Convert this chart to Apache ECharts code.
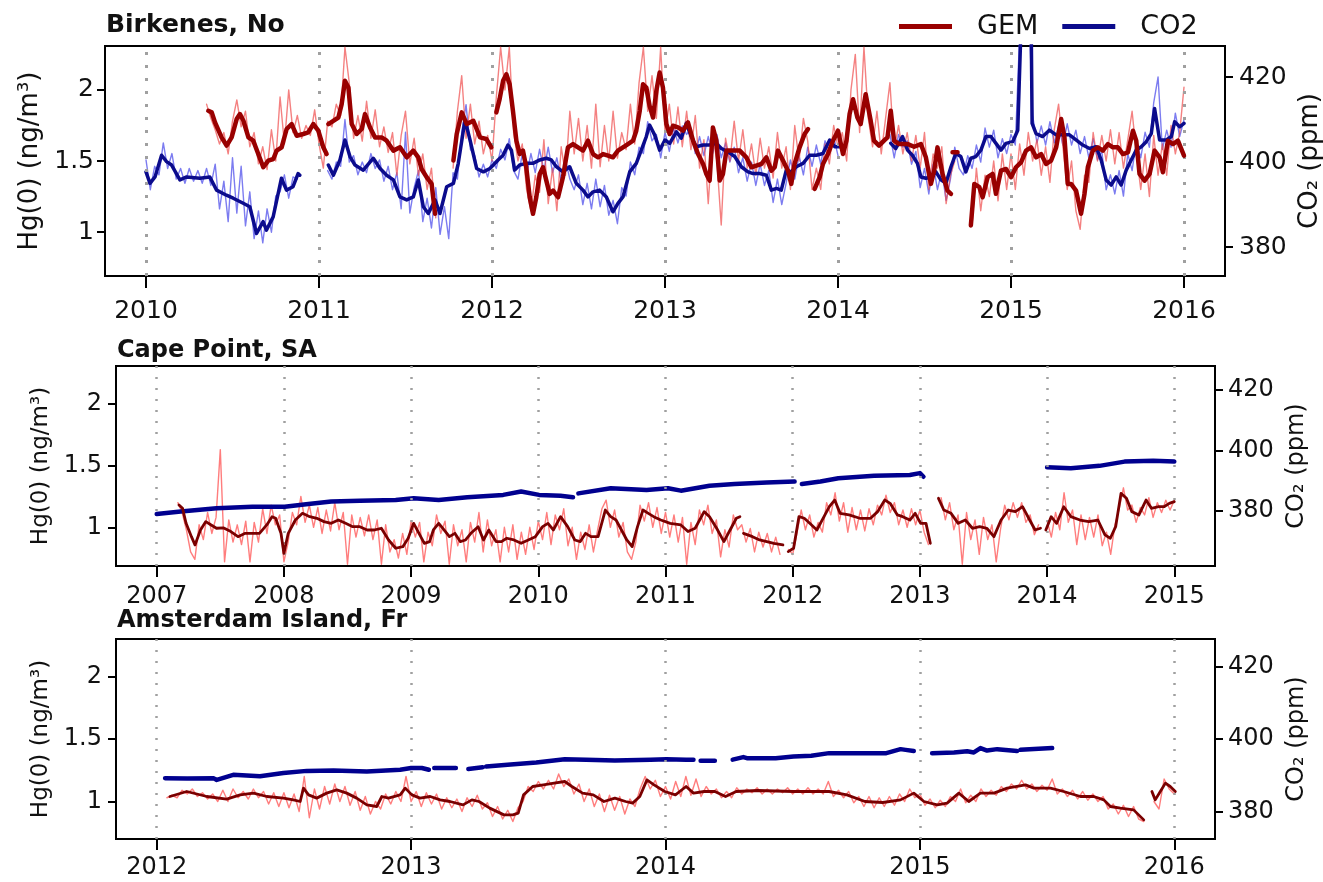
<!DOCTYPE html>
<html>
<head>
<meta charset="utf-8">
<script src="https://cdn.jsdelivr.net/npm/echarts/dist/echarts.min.js"></script>
<style>
html, body { margin: 0; padding: 0; background: #ffffff; }
#chart { width: 1323px; height: 882px; }
</style>
</head>
<body>
<div id="chart"></div>
<script>
// ---------------- Birkenes, No (2010-2016) ----------------
// Daily series sampled every 1/40 year starting 2010.0
const birkDailyStart = 2010.0;
const birkDailyStep = 1 / 40;
const birkGemDaily = [
  null,null,null,null,null,null,null,null,null,null,null,null,null,null,
  1.90,1.80,1.72,1.62,1.70,1.55,1.78,1.93,1.74,1.85,1.60,1.70,1.48,1.60,1.44,1.72,1.50,1.95,1.62,2.00,1.70,1.82,1.66,1.75,1.68,1.86,1.62,
  1.45,1.78,1.74,1.90,1.82,2.30,2.05,1.66,1.82,1.64,1.92,1.66,1.86,1.60,1.74,1.56,1.70,1.40,1.68,1.85,1.48,1.66,1.40,1.55,1.30,1.45,1.10,
  null,null,null,
  1.45,1.85,2.10,1.66,1.90,1.62,1.78,1.55,1.68,1.50,
  1.95,2.30,2.00,2.30,1.70,1.50,1.62,1.30,1.15,1.40,1.28,1.65,1.20,1.45,1.15,1.60,1.40,1.85,1.55,1.80,
  1.50,1.75,1.45,1.90,1.46,1.75,1.50,1.85,1.52,1.70,1.58,1.90,1.62,2.05,2.30,1.85,2.10,1.80,2.30,1.70,
  1.90,1.62,1.88,1.60,1.85,1.58,1.82,1.45,1.65,1.20,1.68,1.50,1.05,1.66,1.50,1.78,1.50,1.72,1.45,1.62,
  1.40,1.66,1.45,1.60,1.38,1.70,1.45,1.60,1.30,1.75,1.50,1.80,1.64,1.30,1.45,1.30,1.62,1.48,1.75,1.60,
  1.70,1.50,2.00,2.25,1.70,2.30,1.80,1.60,1.85,1.55,1.80,2.05,1.58,1.75,1.55,1.70,1.50,1.68,1.45,1.70,1.30,1.55,1.45,1.60,1.20,1.40,1.50,
  null,null,null,
  1.05,1.45,1.15,1.40,1.25,1.50,1.22,1.55,1.30,1.55,1.30,1.62,1.40,1.70,1.50,1.65,1.40,1.60,1.35,1.72,
  1.90,1.60,1.30,1.50,1.15,1.02,1.40,1.35,1.70,1.50,1.68,1.50,1.72,1.48,1.70,1.45,1.65,1.85,1.55,1.30,
  1.55,1.25,1.68,1.40,1.62,1.40,1.75,1.55,1.70,2.02
];
const birkCo2Daily = [
  400.5,393.5,399.0,397.0,404.5,398.5,402.0,396.0,398.5,395.0,398.5,395.5,398.0,395.0,398.5,394.5,399.5,389.0,395.5,386.0,
  401.0,388.0,399.0,385.0,393.0,382.0,388.5,381.0,389.0,383.5,392.0,393.0,397.0,391.5,396.5,396.0,
  null,null,null,null,null,null,
  398.0,396.0,400.0,399.0,410.0,400.0,401.5,397.0,400.0,397.5,
  402.0,398.5,400.5,395.5,399.0,393.5,397.5,389.0,407.0,388.0,
  394.0,398.0,386.0,391.5,384.5,394.0,383.0,389.5,382.0,397.5,
  396.0,407.0,413.5,403.0,401.5,396.5,399.5,396.5,400.5,398.5,
  403.0,400.5,405.5,398.0,396.0,402.0,397.0,402.0,397.5,403.0,
  398.0,403.5,397.5,401.0,395.5,400.5,396.0,393.5,397.0,390.0,
  395.0,389.0,396.0,389.5,394.5,387.5,391.0,385.5,394.0,392.0,
  400.0,397.0,403.5,402.0,409.5,405.0,406.5,401.0,407.0,402.5,
  408.0,404.5,408.5,406.5,408.0,402.0,406.0,401.5,406.0,402.0,
  406.5,401.0,404.5,400.0,403.5,397.5,401.0,395.5,400.0,394.5,
  399.5,394.5,398.0,390.5,396.0,390.0,395.0,400.5,396.0,401.5,
  397.0,403.5,399.0,404.0,399.5,405.0,402.5,406.0,401.5,
  null,null,null,null,null,null,null,null,null,null,null,
  406.5,401.0,406.5,403.5,405.0,399.5,402.5,394.0,398.5,392.5,
  399.5,393.5,398.0,391.0,396.0,403.5,398.5,397.0,401.5,398.5,
  404.0,400.0,408.0,403.5,407.5,401.0,405.5,402.0,406.5,404.0,
  430.0,440.0,440.0,411.0,404.5,408.5,404.0,409.5,404.5,408.5,
  404.0,409.0,404.0,407.5,402.0,406.0,401.0,405.5,400.5,402.5,
  393.5,397.0,392.5,398.0,392.0,402.0,398.0,405.0,401.0,407.0,
  403.5,414.0,420.0,403.0,407.5,403.5,411.5,406.0,410.0
];
// Smoothed series: [decimal year, value]; a null value breaks the line
const birkGemSmooth = [
  [2010.360,1.853],[2010.380,1.842],[2010.399,1.771],[2010.437,1.666],[2010.466,1.608],[2010.495,1.666],[2010.524,1.795],
  [2010.543,1.830],[2010.563,1.783],[2010.592,1.666],[2010.620,1.643],[2010.649,1.549],[2010.678,1.456],[2010.707,1.503],
  [2010.736,1.514],[2010.755,1.573],[2010.784,1.596],[2010.813,1.725],[2010.842,1.760],[2010.871,1.678],[2010.909,1.690],
  [2010.938,1.701],[2010.967,1.760],[2010.996,1.713],[2011.025,1.596],[2011.044,1.549],[2011.049,null],
  [2011.054,1.760],[2011.083,1.783],[2011.112,1.806],[2011.131,1.900],[2011.150,2.064],[2011.170,2.017],[2011.189,1.760],
  [2011.218,1.690],[2011.247,1.725],[2011.266,1.830],[2011.295,1.736],[2011.324,1.666],[2011.362,1.666],[2011.391,1.643],
  [2011.430,1.573],[2011.468,1.596],[2011.507,1.526],[2011.545,1.573],[2011.574,1.526],[2011.593,1.444],[2011.622,1.386],
  [2011.651,1.339],[2011.671,1.129],[2011.720,null],
  [2011.777,1.503],[2011.796,1.690],[2011.825,1.842],[2011.854,1.760],[2011.892,1.783],[2011.931,1.666],[2011.967,1.655],
  [2011.996,1.596],[2012.010,null],
  [2012.025,1.842],[2012.044,1.935],[2012.064,2.064],[2012.083,2.110],[2012.102,2.040],[2012.121,1.853],[2012.141,1.643],
  [2012.160,1.549],[2012.179,1.573],[2012.198,1.456],[2012.218,1.245],[2012.237,1.129],[2012.256,1.245],[2012.276,1.409],
  [2012.295,1.456],[2012.314,1.362],[2012.333,1.269],[2012.353,1.292],[2012.382,1.245],[2012.410,1.386],[2012.439,1.596],
  [2012.468,1.619],[2012.497,1.596],[2012.526,1.573],[2012.555,1.643],[2012.584,1.549],[2012.613,1.526],[2012.642,1.549],
  [2012.671,1.538],[2012.699,1.526],[2012.728,1.573],[2012.757,1.596],[2012.786,1.619],[2012.815,1.643],[2012.834,1.713],
  [2012.854,1.853],[2012.873,2.040],[2012.892,2.017],[2012.911,1.888],[2012.931,1.806],[2012.950,1.993],[2012.969,2.122],
  [2012.988,2.017],[2013.008,1.760],[2013.027,1.690],[2013.046,1.748],[2013.075,1.736],[2013.104,1.713],[2013.133,1.771],
  [2013.162,1.643],[2013.191,1.549],[2013.220,1.479],[2013.239,1.409],[2013.258,1.362],[2013.277,1.736],[2013.297,1.643],
  [2013.316,1.362],[2013.335,1.409],[2013.355,1.573],[2013.393,1.573],[2013.432,1.573],[2013.470,1.526],[2013.499,1.456],
  [2013.528,1.468],[2013.557,1.479],[2013.586,1.526],[2013.615,1.432],[2013.634,1.456],[2013.653,1.573],[2013.682,1.503],
  [2013.711,1.432],[2013.730,1.339],[2013.749,1.479],[2013.778,1.596],[2013.807,1.690],[2013.827,1.725],[2013.845,null],
  [2013.865,1.304],[2013.894,1.386],[2013.913,1.479],[2013.942,1.549],[2013.971,1.643],[2014.000,1.713],[2014.029,1.549],
  [2014.049,1.643],[2014.067,1.830],[2014.087,1.935],[2014.112,1.806],[2014.131,1.760],[2014.160,1.970],[2014.189,1.783],
  [2014.208,1.643],[2014.237,1.608],[2014.266,1.643],[2014.286,1.666],[2014.305,1.853],[2014.324,1.643],[2014.353,1.619],
  [2014.400,1.620],[2014.440,1.600],[2014.479,1.619],[2014.508,1.526],[2014.537,1.339],[2014.556,1.432],[2014.575,1.596],
  [2014.604,1.409],[2014.633,1.292],[2014.653,1.269],[2014.657,null],[2014.662,1.561],[2014.691,1.561],[2014.730,null],
  [2014.768,1.047],[2014.788,1.339],[2014.817,1.316],[2014.836,1.245],[2014.865,1.386],[2014.894,1.409],[2014.913,1.269],
  [2014.942,1.432],[2014.971,1.444],[2015.000,1.386],[2015.029,1.456],[2015.058,1.491],[2015.087,1.573],[2015.116,1.596],
  [2015.145,1.526],[2015.174,1.549],[2015.203,1.479],[2015.232,1.503],[2015.261,1.596],[2015.290,1.795],[2015.309,1.666],
  [2015.328,1.339],[2015.347,1.339],[2015.376,1.292],[2015.405,1.129],[2015.425,1.269],[2015.444,1.456],[2015.473,1.573],
  [2015.502,1.596],[2015.531,1.573],[2015.560,1.619],[2015.589,1.596],[2015.618,1.596],[2015.647,1.549],[2015.676,1.561],
  [2015.705,1.713],[2015.724,1.643],[2015.743,1.409],[2015.772,1.362],[2015.801,1.409],[2015.830,1.573],[2015.859,1.526],
  [2015.878,1.421],[2015.907,1.643],[2015.936,1.619],[2015.965,1.643],[2016.000,1.538]
];
const birkCo2Smooth = [
  [2010.000,397.7],[2010.023,395.0],[2010.052,396.5],[2010.090,401.6],[2010.119,400.1],[2010.148,399.3],[2010.196,395.8],
  [2010.235,396.5],[2010.312,396.2],[2010.369,396.5],[2010.408,393.4],[2010.465,392.2],[2010.504,391.5],[2010.562,390.3],
  [2010.600,389.5],[2010.639,383.2],[2010.677,386.0],[2010.696,384.0],[2010.735,387.1],[2010.783,396.2],[2010.812,393.4],
  [2010.850,394.2],[2010.879,397.3],[2010.889,396.9],[2010.950,null],
  [2011.054,399.3],[2011.083,396.9],[2011.121,400.5],[2011.150,405.2],[2011.179,401.3],[2011.208,399.3],[2011.256,398.1],
  [2011.314,400.9],[2011.353,398.5],[2011.391,396.9],[2011.430,395.8],[2011.468,391.8],[2011.507,391.1],[2011.545,391.8],
  [2011.574,395.8],[2011.603,389.5],[2011.632,387.9],[2011.671,391.1],[2011.699,387.9],[2011.738,394.2],[2011.777,395.0],
  [2011.805,399.7],[2011.844,409.9],[2011.873,405.2],[2011.911,398.5],[2011.950,397.7],[2011.988,398.5],
  [2012.035,400.5],[2012.064,401.6],[2012.092,404.0],[2012.112,402.8],[2012.131,398.1],[2012.160,399.3],[2012.198,399.7],
  [2012.237,399.7],[2012.276,400.5],[2012.314,400.9],[2012.343,400.5],[2012.372,398.9],[2012.410,397.7],[2012.449,398.9],
  [2012.487,395.0],[2012.526,393.4],[2012.555,391.8],[2012.584,393.0],[2012.622,393.4],[2012.661,391.8],[2012.699,388.3],
  [2012.728,390.3],[2012.757,391.8],[2012.796,397.7],[2012.834,399.7],[2012.863,402.8],[2012.892,406.0],[2012.911,408.7],
  [2012.940,406.4],[2012.969,402.8],[2013.000,405.2],[2013.027,404.4],[2013.066,407.1],[2013.094,405.6],[2013.123,409.1],
  [2013.152,406.0],[2013.181,403.6],[2013.220,404.0],[2013.258,404.0],[2013.297,404.4],[2013.326,403.2],[2013.364,402.4],
  [2013.403,401.3],[2013.441,398.9],[2013.480,397.7],[2013.509,397.3],[2013.547,397.3],[2013.586,396.9],[2013.615,393.4],
  [2013.644,393.8],[2013.672,393.4],[2013.701,398.1],[2013.730,397.7],[2013.759,398.9],[2013.798,399.7],[2013.836,401.6],
  [2013.875,401.6],[2013.913,402.0],[2013.952,405.2],[2013.981,403.6],[2014.010,403.6],[2014.100,null],
  [2014.305,404.4],[2014.334,403.2],[2014.373,406.0],[2014.402,402.8],[2014.430,401.6],[2014.459,399.7],[2014.479,396.5],
  [2014.508,396.2],[2014.537,396.5],[2014.566,397.7],[2014.595,395.8],[2014.624,395.0],[2014.653,398.9],[2014.681,402.0],
  [2014.710,401.3],[2014.739,397.7],[2014.768,400.9],[2014.797,401.3],[2014.826,402.8],[2014.855,406.0],[2014.884,406.0],
  [2014.913,404.4],[2014.942,402.8],[2014.971,404.4],[2015.010,404.8],[2015.039,407.5],[2015.055,428.0],[2015.060,440.0],
  [2015.115,440.0],[2015.122,409.1],[2015.145,406.7],[2015.183,406.0],[2015.222,407.5],[2015.261,406.4],[2015.299,406.4],
  [2015.338,406.4],[2015.376,405.2],[2015.415,404.0],[2015.454,403.2],[2015.492,403.6],[2015.521,400.5],[2015.550,395.8],
  [2015.579,394.6],[2015.608,396.5],[2015.637,394.6],[2015.666,398.1],[2015.695,400.5],[2015.724,402.8],[2015.753,403.6],
  [2015.782,404.8],[2015.811,406.7],[2015.830,412.6],[2015.859,405.2],[2015.898,405.2],[2015.927,406.0],[2015.946,409.5],
  [2015.975,408.3],[2016.000,409.1]
];

// ---------------- Cape Point, SA (2007-2015) ----------------
const capeDailyStart = 2007.0;
const capeDailyStep = 1 / 30;
const capeGemDaily = [
  null,null,null,null,null,
  1.20,1.12,0.98,0.80,0.74,1.02,0.90,1.12,0.95,1.08,
  1.63,0.72,1.06,0.88,1.02,0.86,1.05,0.72,1.04,0.88,
  1.15,0.95,1.18,1.02,1.10,0.72,0.88,1.12,1.02,1.25,
  1.04,1.18,1.00,1.16,0.95,1.14,0.97,1.20,0.98,1.12,
  0.70,1.10,0.92,1.08,0.93,1.10,0.90,1.06,0.70,1.02,
  0.80,0.90,0.75,0.95,0.78,1.05,0.92,1.04,0.72,0.96,
  0.85,1.10,0.95,1.05,0.70,1.02,0.85,0.98,0.72,1.04,
  0.88,1.12,0.80,1.06,0.85,0.98,0.72,1.00,0.80,1.02,
  0.74,0.96,0.78,1.00,0.82,1.05,0.90,1.12,0.86,1.10,
  0.98,1.15,0.85,1.00,0.74,0.96,0.82,1.02,0.80,0.98,
  1.15,1.22,1.00,1.14,0.92,1.04,0.80,0.74,0.88,1.18,
  1.05,1.20,1.00,1.16,0.95,1.12,0.92,1.10,0.88,1.08,
  0.70,1.04,0.86,1.14,1.02,1.18,0.95,1.06,0.76,0.98,
  0.84,1.10,0.98,1.02,0.88,0.99,0.80,0.96,0.84,0.95,
  0.80,0.92,0.78,null,0.82,0.78,0.95,1.14,0.98,1.10,
  0.92,1.04,0.96,1.20,1.10,1.28,1.05,1.20,0.96,1.16,
  0.98,1.14,0.97,1.15,1.02,1.18,1.10,1.26,1.12,1.20,
  1.02,1.14,1.00,1.15,1.02,1.14,0.96,0.86,null,null,
  1.24,1.06,1.20,0.98,1.10,0.70,1.12,0.90,1.06,0.78,
  1.08,0.90,1.02,0.72,0.98,1.18,1.06,1.20,1.08,1.20,
  1.04,1.10,0.94,1.02,null,1.05,0.92,1.12,0.98,1.28,
  1.04,1.14,0.86,1.10,0.90,1.08,0.92,1.10,0.85,0.96,
  0.78,1.02,1.15,1.32,1.14,1.18,1.04,1.16,1.10,1.24,
  1.08,1.20,1.12,1.22,1.14,1.22
];
const capeGemSmooth = [
  [2007.175,1.181],[2007.203,1.154],[2007.231,1.032],[2007.273,0.924],[2007.301,0.857],[2007.344,0.978],[2007.386,1.046],
  [2007.428,1.019],[2007.470,0.992],[2007.527,0.995],[2007.583,0.965],[2007.639,0.924],[2007.696,0.951],[2007.752,0.951],
  [2007.808,0.951],[2007.865,1.019],[2007.907,1.086],[2007.935,1.073],[2007.977,0.951],[2008.000,0.789],[2008.034,0.951],
  [2008.090,1.059],[2008.146,1.113],[2008.203,1.086],[2008.259,1.073],[2008.315,1.046],[2008.372,1.032],[2008.428,1.059],
  [2008.485,1.032],[2008.541,1.005],[2008.597,1.005],[2008.654,0.978],[2008.710,0.978],[2008.766,0.992],[2008.823,0.897],
  [2008.879,0.830],[2008.935,0.843],[2008.977,0.911],[2009.020,1.032],[2009.062,0.951],[2009.104,0.870],[2009.146,0.884],
  [2009.175,0.978],[2009.217,1.032],[2009.259,0.978],[2009.301,0.924],[2009.344,0.951],[2009.386,0.884],[2009.428,0.897],
  [2009.470,0.951],[2009.527,1.005],[2009.569,0.897],[2009.611,0.978],[2009.668,0.884],[2009.710,0.884],[2009.752,0.911],
  [2009.808,0.897],[2009.865,0.870],[2009.921,0.897],[2009.977,0.924],[2010.034,1.005],[2010.076,1.032],[2010.118,0.978],
  [2010.175,1.086],[2010.231,1.005],[2010.287,0.897],[2010.330,0.884],[2010.372,0.951],[2010.414,0.924],[2010.470,0.924],
  [2010.527,1.140],[2010.569,1.086],[2010.611,1.059],[2010.654,0.978],[2010.696,0.897],[2010.738,0.843],[2010.780,1.005],
  [2010.823,1.140],[2010.865,1.113],[2010.907,1.086],[2010.963,1.059],[2011.037,1.032],[2011.121,1.019],[2011.177,0.965],
  [2011.233,0.992],[2011.304,1.127],[2011.346,1.086],[2011.402,0.992],[2011.459,0.884],[2011.515,0.992],[2011.557,1.073],
  [2011.585,1.086],[2011.600,null],[2011.613,0.951],[2011.684,0.924],[2011.740,0.897],[2011.796,0.884],[2011.852,0.870],
  [2011.923,0.857],[2011.940,null],[2011.965,0.803],[2012.007,0.830],[2012.049,1.086],[2012.091,1.073],[2012.134,1.032],
  [2012.190,0.978],[2012.246,1.086],[2012.288,1.167],[2012.330,1.221],[2012.373,1.113],[2012.443,1.100],[2012.527,1.073],
  [2012.612,1.073],[2012.668,1.127],[2012.724,1.221],[2012.766,1.194],[2012.823,1.100],[2012.865,1.086],[2012.921,1.059],
  [2012.963,1.113],[2013.006,1.032],[2013.048,1.032],[2013.082,0.870],[2013.100,null],[2013.146,1.235],[2013.188,1.140],
  [2013.245,1.113],[2013.301,1.032],[2013.357,1.059],[2013.413,0.992],[2013.470,1.005],[2013.526,0.992],[2013.582,0.924],
  [2013.638,1.059],[2013.695,1.140],[2013.751,1.127],[2013.807,1.167],[2013.863,1.059],[2013.906,0.978],[2013.948,0.992],
  [2013.970,null],[2013.990,0.978],[2014.032,1.086],[2014.075,1.032],[2014.131,1.167],[2014.187,1.086],[2014.258,1.059],
  [2014.328,1.046],[2014.399,1.059],[2014.455,0.938],[2014.497,0.911],[2014.539,1.005],[2014.581,1.275],[2014.624,1.235],
  [2014.666,1.127],[2014.722,1.100],[2014.778,1.221],[2014.820,1.154],[2014.877,1.167],[2014.919,1.167],[2014.961,1.194],
  [2015.000,1.208]
];
const capeCo2Smooth = [
  [2007.000,379.0],[2007.189,379.8],[2007.470,380.9],[2007.752,381.4],[2008.006,381.4],[2008.175,382.2],[2008.372,383.1],
  [2008.597,383.4],[2008.879,383.6],[2009.020,384.2],[2009.217,383.6],[2009.442,384.5],[2009.724,385.3],[2009.865,386.4],
  [2010.006,385.3],[2010.175,385.0],[2010.273,384.5],[2010.290,null],[2010.315,385.8],[2010.569,387.5],[2010.851,386.9],
  [2011.020,387.5],[2011.121,386.7],[2011.346,388.3],[2011.543,388.9],[2011.796,389.4],[2012.015,389.7],[2012.040,null],
  [2012.072,388.9],[2012.218,389.7],[2012.359,390.8],[2012.640,391.6],[2012.921,391.9],[2013.000,392.5],[2013.028,391.3],
  [2013.500,null],[2014.000,394.4],[2014.187,394.1],[2014.412,394.9],[2014.609,396.3],[2014.834,396.6],[2015.000,396.3]
];

// ---------------- Amsterdam Island, Fr (2012-2016) ----------------
const amsDailyStart = 2012.0;
const amsDailyStep = 1 / 50;
const amsGemDaily = [
  null,null,
  1.03,1.05,1.03,1.09,1.06,1.10,1.04,1.07,1.02,1.06,
  1.00,1.09,1.00,1.10,1.03,1.08,1.02,1.10,1.03,1.08,
  0.98,1.07,0.96,1.07,0.95,1.06,0.92,1.20,0.87,1.10,
  0.94,1.12,0.98,1.14,1.00,1.12,0.97,1.08,0.93,1.04,
  0.90,1.00,0.94,1.06,0.98,1.08,1.00,1.20,1.00,1.08,
  0.96,1.07,0.98,1.06,0.94,1.03,0.95,1.02,0.92,1.03,
  0.96,1.05,0.94,0.99,0.88,0.96,0.86,0.93,0.84,0.95,
  1.00,1.12,1.08,1.16,1.10,1.17,1.10,1.22,1.12,1.18,
  1.06,1.14,1.00,1.10,0.96,1.06,0.92,1.05,0.93,1.04,
  0.90,1.02,0.96,1.10,1.20,1.10,1.17,1.04,1.12,1.02,
  1.16,1.04,1.20,1.05,1.18,1.04,1.12,1.06,1.10,1.03,
  1.08,1.03,1.11,1.06,1.10,1.07,1.11,1.06,1.10,1.06,
  1.10,1.07,1.11,1.06,1.10,1.06,1.11,1.06,1.10,1.06,
  1.16,1.04,1.09,1.03,1.08,0.99,1.04,0.96,1.04,0.95,
  1.03,0.96,1.04,0.97,1.06,1.00,1.10,1.03,1.06,0.97,
  1.02,0.95,1.01,0.96,1.04,1.00,1.10,0.99,1.05,1.00,
  1.10,1.04,1.09,1.05,1.12,1.08,1.14,1.10,1.17,1.10,
  1.14,1.08,1.13,1.09,1.18,1.06,1.10,1.04,1.09,1.02,
  1.08,1.01,1.06,1.00,1.04,0.94,0.98,0.90,0.97,0.88,
  0.96,0.86,0.84,null,1.00,0.94,1.18,1.10,1.06
];
const amsGemSmooth = [
  [2012.052,1.040],[2012.118,1.080],[2012.197,1.040],[2012.275,1.019],[2012.328,1.053],[2012.380,1.067],[2012.433,1.040],
  [2012.498,1.027],[2012.537,1.013],[2012.564,1.000],[2012.577,1.107],[2012.597,1.053],[2012.629,1.027],[2012.668,1.067],
  [2012.708,1.093],[2012.747,1.067],[2012.786,1.027],[2012.826,0.973],[2012.865,0.960],[2012.885,1.040],[2012.911,1.027],
  [2012.957,1.053],[2012.977,1.107],[2013.003,1.053],[2013.035,1.027],[2013.075,1.040],[2013.114,1.013],[2013.153,1.000],
  [2013.204,0.973],[2013.239,1.013],[2013.267,1.000],[2013.309,0.947],[2013.365,0.893],[2013.400,0.893],[2013.421,0.907],
  [2013.442,1.053],[2013.478,1.120],[2013.520,1.133],[2013.562,1.147],[2013.604,1.160],[2013.632,1.120],[2013.674,1.067],
  [2013.716,1.053],[2013.758,1.000],[2013.801,1.027],[2013.843,1.000],[2013.871,0.987],[2013.899,1.040],[2013.927,1.173],
  [2013.955,1.133],[2013.997,1.080],[2014.039,1.053],[2014.081,1.120],[2014.110,1.067],[2014.152,1.080],[2014.194,1.080],
  [2014.236,1.040],[2014.278,1.080],[2014.362,1.088],[2014.503,1.080],[2014.643,1.080],[2014.713,1.053],[2014.784,1.000],
  [2014.854,0.992],[2014.924,1.013],[2014.976,1.067],[2015.016,1.000],[2015.068,0.973],[2015.107,0.987],[2015.153,1.067],
  [2015.192,1.000],[2015.238,1.067],[2015.291,1.067],[2015.343,1.107],[2015.415,1.133],[2015.448,1.107],[2015.513,1.107],
  [2015.565,1.080],[2015.631,1.040],[2015.683,1.040],[2015.723,1.013],[2015.749,0.960],[2015.788,0.947],[2015.840,0.933],
  [2015.880,0.853],[2015.895,null],[2015.912,1.080],[2015.925,1.013],[2015.945,1.080],[2015.965,1.147],[2015.984,1.120],
  [2016.004,1.080]
];
const amsCo2Smooth = [
  [2012.033,389.2],[2012.120,389.1],[2012.223,389.2],[2012.236,388.7],[2012.301,390.1],[2012.406,389.7],[2012.498,390.6],
  [2012.590,391.2],[2012.695,391.3],[2012.826,391.0],[2012.957,391.5],[2013.000,392.0],[2013.042,392.0],[2013.070,391.5],
  [2013.078,null],[2013.091,392.0],[2013.176,392.0],[2013.200,null],[2013.225,391.7],[2013.281,392.2],[2013.288,null],
  [2013.295,392.4],[2013.379,392.9],[2013.492,393.5],[2013.604,394.4],[2013.688,394.3],[2013.801,394.1],[2013.941,394.3],
  [2014.004,394.4],[2014.081,394.3],[2014.110,394.3],[2014.124,null],[2014.138,394.0],[2014.194,394.0],[2014.230,null],
  [2014.264,394.3],[2014.306,395.0],[2014.320,394.7],[2014.433,394.7],[2014.503,395.2],[2014.573,395.4],[2014.643,396.1],
  [2014.784,396.1],[2014.868,396.1],[2014.924,397.2],[2014.944,397.0],[2014.976,396.7],[2015.010,null],[2015.048,396.1],
  [2015.134,396.3],[2015.186,396.6],[2015.212,396.3],[2015.238,397.5],[2015.264,396.8],[2015.304,397.2],[2015.382,396.7],
  [2015.388,null],[2015.395,397.0],[2015.520,397.5]
];

// Axis tick values
const birkYears = [2010, 2011, 2012, 2013, 2014, 2015, 2016];
const capeYears = [2007, 2008, 2009, 2010, 2011, 2012, 2013, 2014, 2015];
const amsYears = [2012, 2013, 2014, 2015, 2016];
const hgTicks = [1, 1.5, 2];
const co2Ticks = [380, 400, 420];

// ------------------------------------------------------------
const FONT = 'DejaVu Sans';

function sampled(start, step, values) {
  return values.map((v, i) => [start + i * step, v]);
}

function xAxisFor(gi, min, max, years, fs, margin, tickLen) {
  return {
    type: 'value', gridIndex: gi, min: min, max: max,
    axisLine: { show: true, onZero: false, lineStyle: { color: '#000', width: 2 } },
    axisTick: { show: true, length: tickLen, customValues: years, lineStyle: { color: '#000', width: 2 } },
    axisLabel: { customValues: years, fontSize: fs, fontFamily: FONT, color: '#111', margin: margin,
      formatter: v => String(v) },
    splitLine: { show: false }
  };
}

function yAxisFor(gi, pos, min, max, ticks, name, fs, nameFs, nameGap, margin) {
  return {
    type: 'value', gridIndex: gi, position: pos, min: min, max: max,
    name: name, nameLocation: 'middle', nameRotate: 90, nameGap: nameGap,
    nameTextStyle: { fontSize: nameFs, fontFamily: FONT, color: '#111' },
    axisLine: { show: true, onZero: false, lineStyle: { color: '#000', width: 2 } },
    axisTick: { show: true, length: 8, customValues: ticks, lineStyle: { color: '#000', width: 2 } },
    axisLabel: { customValues: ticks, fontSize: fs, fontFamily: FONT, color: '#111', margin: margin,
      formatter: v => String(v) },
    splitLine: { show: false }
  };
}

function yearLines(xi, yi, years, dash, width) {
  return {
    type: 'line', name: 'year marks ' + xi, xAxisIndex: xi, yAxisIndex: yi, data: [], z: 1,
    silent: true,
    markLine: {
      silent: true, symbol: 'none', label: { show: false }, animation: false,
      lineStyle: { color: '#a0a0a0', type: dash, width: width },
      data: years.map(y => ({ xAxis: y }))
    }
  };
}

function lineSeries(name, xi, yi, data, color, width, z) {
  return {
    type: 'line', name: name, xAxisIndex: xi, yAxisIndex: yi, data: data,
    showSymbol: false, symbol: 'none', clip: true, connectNulls: false, z: z,
    lineStyle: { color: color, width: width, join: 'round', cap: 'round' },
    itemStyle: { color: color },
    emphasis: { disabled: true }, silent: true
  };
}

const option = {
  backgroundColor: '#ffffff',
  animation: false,
  title: [
    { text: 'Birkenes, No', left: 106, top: 13, padding: 0,
      textStyle: { fontFamily: FONT, fontWeight: 'bold', fontSize: 25, color: '#111' } },
    { text: 'Cape Point, SA', left: 117, top: 339, padding: 0,
      textStyle: { fontFamily: FONT, fontWeight: 'bold', fontSize: 24, color: '#111' } },
    { text: 'Amsterdam Island, Fr', left: 117, top: 609, padding: 0,
      textStyle: { fontFamily: FONT, fontWeight: 'bold', fontSize: 24, color: '#111' } }
  ],
  legend: {
    data: ['GEM', 'CO2'], left: 899, top: 13, padding: 0, itemGap: 24,
    icon: 'rect', itemWidth: 53, itemHeight: 5, selectedMode: false,
    textStyle: { fontFamily: FONT, fontSize: 27, color: '#111', padding: [0, 0, 0, 20] }
  },
  grid: [
    { left: 105, top: 46, width: 1120, height: 230, show: true, borderColor: '#000', borderWidth: 2,
      backgroundColor: 'transparent', containLabel: false, outerBoundsMode: 'none' },
    { left: 116, top: 366, width: 1099, height: 200, show: true, borderColor: '#000', borderWidth: 2,
      backgroundColor: 'transparent', containLabel: false, outerBoundsMode: 'none' },
    { left: 116, top: 639, width: 1099, height: 200, show: true, borderColor: '#000', borderWidth: 2,
      backgroundColor: 'transparent', containLabel: false, outerBoundsMode: 'none' }
  ],
  xAxis: [
    xAxisFor(0, 2009.763, 2016.237, birkYears, 25, 23, 12),
    xAxisFor(1, 2006.68, 2015.32, capeYears, 24, 19, 11),
    xAxisFor(2, 2011.84, 2016.16, amsYears, 24, 17, 11)
  ],
  yAxis: [
    yAxisFor(0, 'left', 0.691, 2.309, hgTicks, 'Hg(0) (ng/m³)', 25, 26, 59, 11),
    yAxisFor(0, 'right', 373.2, 427.3, co2Ticks, 'CO₂ (ppm)', 25, 26, 65, 14),
    yAxisFor(1, 'left', 0.686, 2.308, hgTicks, 'Hg(0) (ng/m³)', 24, 23, 62, 14),
    yAxisFor(1, 'right', 361.8, 427.9, co2Ticks, 'CO₂ (ppm)', 24, 24, 70, 13),
    yAxisFor(2, 'left', 0.70, 2.30, hgTicks, 'Hg(0) (ng/m³)', 24, 23, 62, 14),
    yAxisFor(2, 'right', 372.4, 427.6, co2Ticks, 'CO₂ (ppm)', 24, 24, 70, 13)
  ],
  series: [
    // Birkenes
    yearLines(0, 0, birkYears, [3, 10], 3),
    lineSeries('CO2 daily Birkenes', 0, 1, sampled(birkDailyStart, birkDailyStep, birkCo2Daily), 'rgba(80,80,235,0.75)', 1.4, 2),
    lineSeries('GEM daily Birkenes', 0, 0, sampled(birkDailyStart, birkDailyStep, birkGemDaily), 'rgba(240,75,75,0.7)', 1.4, 3),
    lineSeries('CO2', 0, 1, birkCo2Smooth, '#0b0b8c', 3.5, 4),
    lineSeries('GEM', 0, 0, birkGemSmooth, '#990000', 4.5, 5),
    // Cape Point
    yearLines(1, 2, capeYears, [2, 9], 2.5),
    lineSeries('GEM daily Cape Point', 1, 2, sampled(capeDailyStart, capeDailyStep, capeGemDaily), 'rgba(255,70,70,0.7)', 1.4, 3),
    lineSeries('CO2 Cape Point', 1, 3, capeCo2Smooth, '#00008f', 4.5, 4),
    lineSeries('GEM Cape Point', 1, 2, capeGemSmooth, '#7a0000', 2.8, 5),
    // Amsterdam Island
    yearLines(2, 4, amsYears, [2, 9], 2.5),
    lineSeries('GEM daily Amsterdam Island', 2, 4, sampled(amsDailyStart, amsDailyStep, amsGemDaily), 'rgba(255,70,70,0.7)', 1.4, 3),
    lineSeries('CO2 Amsterdam Island', 2, 5, amsCo2Smooth, '#00008f', 4.5, 4),
    lineSeries('GEM Amsterdam Island', 2, 4, amsGemSmooth, '#7a0000', 2.8, 5)
  ]
};

const chart = echarts.init(document.getElementById('chart'));
chart.setOption(option);
</script>
</body>
</html>
